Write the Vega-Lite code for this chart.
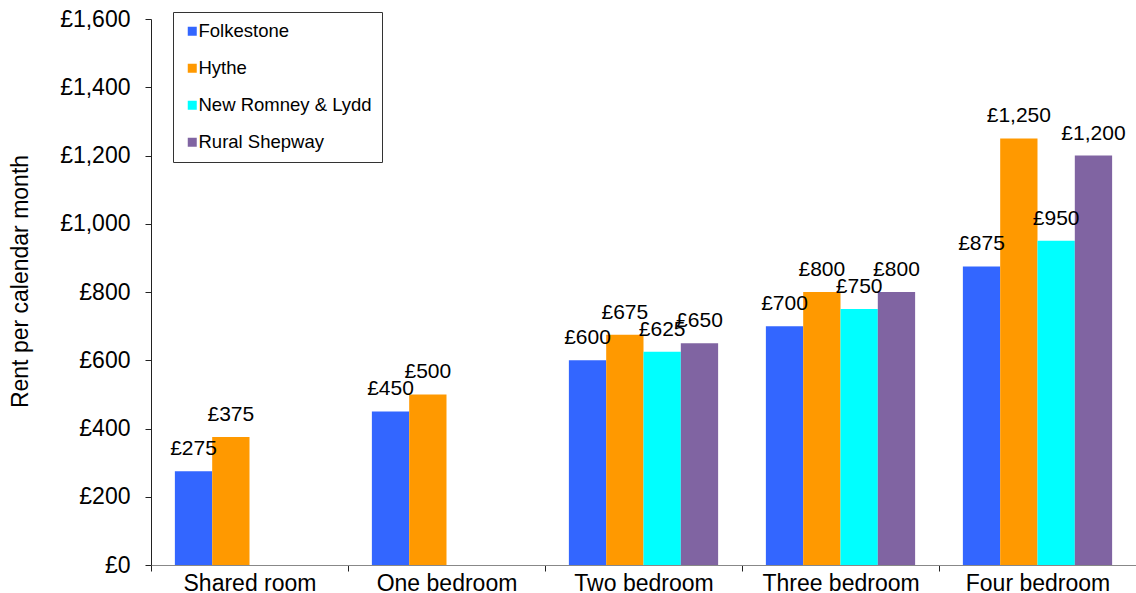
{
  "$schema": "https://vega.github.io/schema/vega-lite/v6.json",
  "width": 985,
  "height": 546,
  "autosize": {"type": "none"},
  "padding": {"left": 151, "top": 19, "right": 0, "bottom": 28},
  "config": {
    "view": {"stroke": null},
    "font": "Liberation Sans"
  },
  "data": {
    "values": [
      {"unit": "Shared room", "area": "Folkestone", "rent": 275},
      {"unit": "Shared room", "area": "Hythe", "rent": 375},
      {"unit": "One bedroom", "area": "Folkestone", "rent": 450},
      {"unit": "One bedroom", "area": "Hythe", "rent": 500},
      {"unit": "Two bedroom", "area": "Folkestone", "rent": 600},
      {"unit": "Two bedroom", "area": "Hythe", "rent": 675},
      {"unit": "Two bedroom", "area": "New Romney & Lydd", "rent": 625},
      {"unit": "Two bedroom", "area": "Rural Shepway", "rent": 650},
      {"unit": "Three bedroom", "area": "Folkestone", "rent": 700},
      {"unit": "Three bedroom", "area": "Hythe", "rent": 800},
      {"unit": "Three bedroom", "area": "New Romney & Lydd", "rent": 750},
      {"unit": "Three bedroom", "area": "Rural Shepway", "rent": 800},
      {"unit": "Four bedroom", "area": "Folkestone", "rent": 875},
      {"unit": "Four bedroom", "area": "Hythe", "rent": 1250},
      {"unit": "Four bedroom", "area": "New Romney & Lydd", "rent": 950},
      {"unit": "Four bedroom", "area": "Rural Shepway", "rent": 1200}
    ]
  },
  "encoding": {
    "x": {
      "field": "unit", "type": "nominal",
      "sort": ["Shared room", "One bedroom", "Two bedroom", "Three bedroom", "Four bedroom"],
      "scale": {"paddingInner": 0, "paddingOuter": 0},
      "axis": {
        "title": null, "labelAngle": 0, "labelFontSize": 23, "labelColor": "#000",
        "tickBand": "extent", "tickSize": 6, "tickColor": "#222", "domainColor": "#888",
        "labelPadding": 1, "grid": false
      }
    },
    "xOffset": {
      "field": "area", "type": "nominal",
      "sort": ["Folkestone", "Hythe", "New Romney & Lydd", "Rural Shepway"],
      "scale": {"paddingInner": 0, "paddingOuter": 0.64}
    },
    "y": {
      "field": "rent", "type": "quantitative", "stack": null,
      "scale": {"domain": [0, 1600], "nice": false},
      "axis": {
        "title": "Rent per calendar month", "titleFontSize": 23, "titleFontWeight": "normal", "titleColor": "#000",
        "titleX": -119, "titleY": 262, "titleAngle": -90, "titleBaseline": "bottom", "titleAlign": "center",
        "values": [0, 200, 400, 600, 800, 1000, 1200, 1400, 1600],
        "labelExpr": "'£' + format(datum.value, ',')", "labelFontSize": 23, "labelColor": "#000", "labelPadding": 15,
        "tickSize": 6, "tickColor": "#222", "domainColor": "#222", "grid": false
      }
    }
  },
  "layer": [
    {
      "mark": {"type": "bar"},
      "encoding": {
        "color": {
          "field": "area", "type": "nominal",
          "scale": {
            "domain": ["Folkestone", "Hythe", "New Romney & Lydd", "Rural Shepway"],
            "range": ["#3366FF", "#FF9900", "#00FFFF", "#8064A2"]
          },
          "legend": {
            "title": null, "orient": "none", "legendX": 22, "legendY": -7,
            "symbolType": "square", "symbolSize": 81, "symbolStrokeWidth": 0,
            "labelFontSize": 18.5, "labelColor": "#000", "labelOffset": -3, "labelLimit": 0,
            "rowPadding": 18, "padding": 10, "strokeColor": "#333"
          }
        }
      }
    },
    {
      "mark": {"type": "text", "baseline": "alphabetic", "dy": -16, "fontSize": 21, "color": "#000",
        "text": {"expr": "'£' + format(datum.rent, ',')"}},
      "encoding": {}
    }
  ]
}
